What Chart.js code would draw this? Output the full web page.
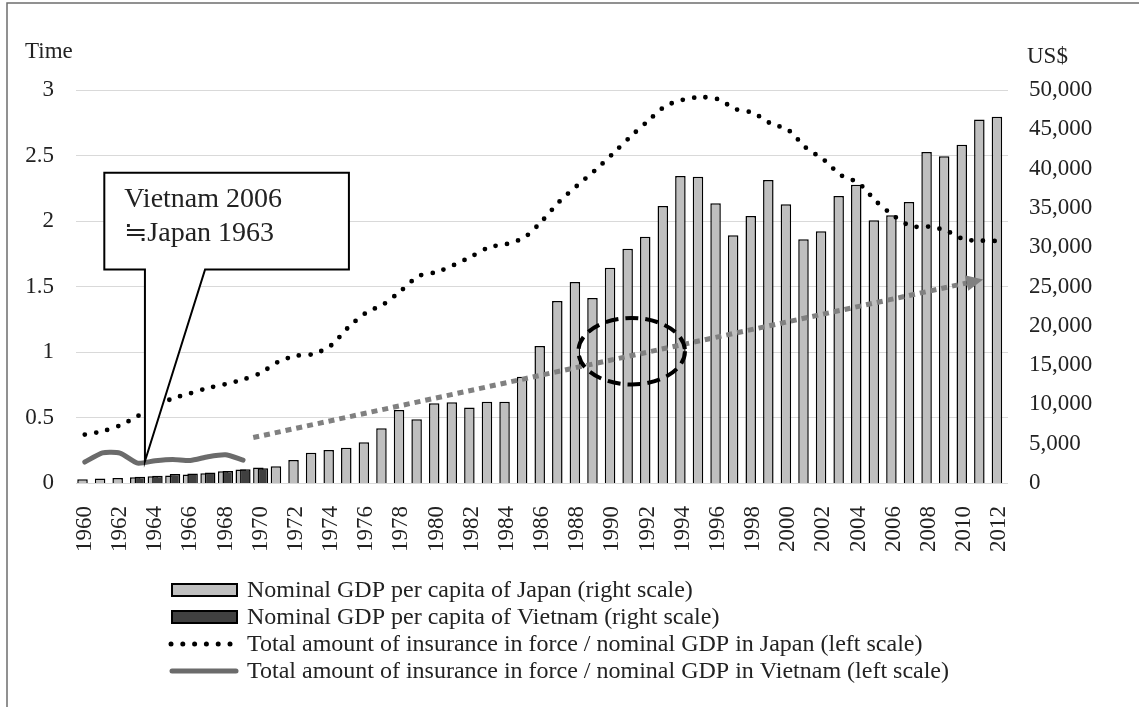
<!DOCTYPE html>
<html>
<head>
<meta charset="utf-8">
<script src="https://cdn.jsdelivr.net/npm/chart.js@4.4.0/dist/chart.umd.min.js"></script>
<style>
  html, body { margin: 0; padding: 0; background: #fff; }
</style>
</head>
<body>
<canvas id="gdp-chart" width="1139" height="707"></canvas>
<script>
  var years = ['1960','1961','1962','1963','1964','1965','1966','1967','1968','1969',
               '1970','1971','1972','1973','1974','1975','1976','1977','1978','1979',
               '1980','1981','1982','1983','1984','1985','1986','1987','1988','1989',
               '1990','1991','1992','1993','1994','1995','1996','1997','1998','1999',
               '2000','2001','2002','2003','2004','2005','2006','2007','2008','2009',
               '2010','2011','2012'];

  // US$, right scale
  var japanGdp = [480, 580, 650, 740, 850, 940, 1080, 1250, 1500, 1720,
                  1960, 2130, 2930, 3860, 4200, 4500, 5180, 6960, 9290, 8100,
                  10140, 10260, 9620, 10340, 10340, 13520, 17430, 23150, 25570, 23530,
                  27390, 29810, 31340, 35230, 39050, 38970, 35580, 31510, 33960, 38540,
                  35450, 31000, 32020, 36510, 37950, 33420, 34050, 35740, 42100, 41560,
                  43030, 46260, 46590];
  // Vietnam 2006-2013 laid over Japan 1963-1970
  var vietnamGdp = [null, null, null, 800, 930, 1160, 1220, 1330, 1540, 1750, 1880];

  // times, left scale
  var japanRatio = [0.37, 0.395, 0.44, 0.51, 0.59, 0.645, 0.685, 0.725, 0.755, 0.79,
                    0.84, 0.925, 0.97, 0.985, 1.05, 1.19, 1.30, 1.365, 1.47, 1.58,
                    1.61, 1.665, 1.73, 1.80, 1.825, 1.875, 2.00, 2.15, 2.27, 2.385,
                    2.51, 2.64, 2.76, 2.875, 2.925, 2.945, 2.93, 2.855, 2.825, 2.745,
                    2.695, 2.56, 2.47, 2.35, 2.29, 2.15, 2.04, 1.96, 1.957, 1.925,
                    1.86, 1.85, 1.847];
  // Vietnam 2003-2012 laid over Japan 1960-1969
  var vietnamRatio = [0.16, 0.23, 0.228, 0.152, 0.17, 0.18, 0.172, 0.2, 0.215, 0.175];

  var labelJpGdp = 'Nominal GDP per capita of Japan (right scale)';
  var labelVnGdp = 'Nominal GDP per capita of Vietnam (right scale)';
  var labelJpRatio = 'Total amount of insurance in force / nominal GDP in Japan (left scale)';
  var labelVnRatio = 'Total amount of insurance in force / nominal GDP in Vietnam (left scale)';

  // annotations, in category index / left-scale units
  var arrowFrom = [9.58, 0.347], arrowTo = [51.09, 1.554];
  var ring = { x: 31.1, y: 1.006, rx: 3.03, ry: 0.254 };
  var callout = { x0: 1.11, x1: 15.02, yTop: 2.368, yBot: 1.63, base0: 3.42, base1: 6.84, tipX: 3.42, tipY: 0.166,
                  lines: ['Vietnam 2006', '\u2252Japan 1963'] };

  var FONT = '"Liberation Serif", "Times New Roman", serif';
  var TEXT = '#222';

  var overlays = {
    id: 'overlays',
    beforeDraw: function(chart) {
      var ctx = chart.ctx;
      ctx.save();
      ctx.strokeStyle = '#6e6e6e';
      ctx.lineWidth = 1.5;
      ctx.beginPath();
      ctx.moveTo(7, 707); ctx.lineTo(7, 3); ctx.lineTo(1139, 3);
      ctx.stroke();
      ctx.restore();
    },
    afterDatasetsDraw: function(chart) {
      var ctx = chart.ctx, x = chart.scales.x, y = chart.scales.y;
      ctx.save();

      // gray dotted arrow
      var ax0 = x.getPixelForValue(arrowFrom[0]), ay0 = y.getPixelForValue(arrowFrom[1]);
      var ax1 = x.getPixelForValue(arrowTo[0]), ay1 = y.getPixelForValue(arrowTo[1]);
      var ang = Math.atan2(ay1 - ay0, ax1 - ax0), head = 17;
      ctx.strokeStyle = '#808080';
      ctx.fillStyle = '#808080';
      ctx.lineWidth = 5;
      ctx.setLineDash([6, 5]);
      ctx.beginPath();
      ctx.moveTo(ax0, ay0);
      ctx.lineTo(ax1 - head * Math.cos(ang), ay1 - head * Math.sin(ang));
      ctx.stroke();
      ctx.setLineDash([]);
      ctx.beginPath();
      ctx.moveTo(ax1, ay1);
      ctx.lineTo(ax1 - head * Math.cos(ang) + 8 * Math.sin(ang), ay1 - head * Math.sin(ang) - 8 * Math.cos(ang));
      ctx.lineTo(ax1 - head * Math.cos(ang) - 8 * Math.sin(ang), ay1 - head * Math.sin(ang) + 8 * Math.cos(ang));
      ctx.closePath();
      ctx.fill();

      // dashed ellipse
      var cx = x.getPixelForValue(ring.x), cy = y.getPixelForValue(ring.y);
      var rx = x.getPixelForValue(ring.x + ring.rx) - cx, ry = cy - y.getPixelForValue(ring.y + ring.ry);
      ctx.strokeStyle = '#000';
      ctx.lineWidth = 4;
      ctx.setLineDash([13, 7]);
      ctx.beginPath();
      ctx.ellipse(cx, cy, rx, ry, 0, 0, Math.PI * 2);
      ctx.stroke();
      ctx.setLineDash([]);

      // callout
      var bx0 = x.getPixelForValue(callout.x0), bx1 = x.getPixelForValue(callout.x1);
      var by0 = y.getPixelForValue(callout.yTop), by1 = y.getPixelForValue(callout.yBot);
      ctx.beginPath();
      ctx.moveTo(bx0, by0);
      ctx.lineTo(bx1, by0);
      ctx.lineTo(bx1, by1);
      ctx.lineTo(x.getPixelForValue(callout.base1), by1);
      ctx.lineTo(x.getPixelForValue(callout.tipX), y.getPixelForValue(callout.tipY));
      ctx.lineTo(x.getPixelForValue(callout.base0), by1);
      ctx.lineTo(bx0, by1);
      ctx.closePath();
      ctx.fillStyle = '#fff';
      ctx.fill();
      ctx.lineWidth = 2;
      ctx.lineJoin = 'miter';
      ctx.strokeStyle = '#000';
      ctx.stroke();
      ctx.fillStyle = TEXT;
      ctx.font = '28px ' + FONT;
      ctx.textBaseline = 'alphabetic';
      ctx.textAlign = 'left';
      callout.lines.forEach(function(t, i) {
        ctx.fillText(t, bx0 + 20, by0 + 34 + i * 34);
      });
      ctx.restore();
    },
    afterDraw: function(chart) {
      var ctx = chart.ctx;
      ctx.save();
      ctx.fillStyle = TEXT;
      ctx.font = '23px ' + FONT;
      ctx.textBaseline = 'alphabetic';
      ctx.fillText('Time', 25, 58);
      ctx.fillText('US$', 1027, 63);

      // legend, one row per series
      var items = chart.data.datasets.filter(function(d) { return d.label; });
      items.sort(function(a, b) { return a.legendRank - b.legendRank; });
      ctx.font = '24px ' + FONT;
      ctx.textBaseline = 'middle';
      items.forEach(function(d, i) {
        var cy = 590 + i * 27;
        if (d.type === 'bar') {
          ctx.fillStyle = d.backgroundColor;
          ctx.fillRect(172, cy - 6, 65, 12);
          ctx.strokeStyle = '#000';
          ctx.lineWidth = 2;
          ctx.strokeRect(172, cy - 6, 65, 12);
        } else if (d.borderDash) {
          ctx.fillStyle = d.borderColor;
          for (var k = 0; k < 6; k++) {
            ctx.beginPath();
            ctx.arc(171 + k * 11.8, cy, 2.5, 0, Math.PI * 2);
            ctx.fill();
          }
        } else {
          ctx.strokeStyle = d.borderColor;
          ctx.lineWidth = 5;
          ctx.lineCap = 'round';
          ctx.beginPath();
          ctx.moveTo(172, cy); ctx.lineTo(236, cy);
          ctx.stroke();
        }
        ctx.fillStyle = TEXT;
        ctx.fillText(d.label, 247, cy + 1);
      });
      ctx.restore();
    }
  };

  new Chart(document.getElementById('gdp-chart'), {
    type: 'bar',
    data: {
      labels: years,
      datasets: [
        { type: 'bar', label: '', data: [], stack: 'jp', yAxisID: 'y2', order: 1 },
        { type: 'line', label: labelJpRatio, legendRank: 2, data: japanRatio, yAxisID: 'y', order: 0,
          borderColor: '#000', borderWidth: 4.8, borderDash: [0, 11.5], borderCapStyle: 'round',
          pointRadius: 0, tension: 0.3, fill: false },
        { type: 'line', label: labelVnRatio, legendRank: 3, data: vietnamRatio, yAxisID: 'y', order: 0,
          borderColor: '#6b6b6b', borderWidth: 5, borderCapStyle: 'round', borderJoinStyle: 'round',
          pointRadius: 0, tension: 0.2, fill: false },
        { type: 'bar', label: labelVnGdp, legendRank: 1, data: vietnamGdp, stack: 'vn', yAxisID: 'y2', order: 2,
          backgroundColor: '#404040', borderColor: '#000', borderWidth: 1.5,
          categoryPercentage: 0.52, barPercentage: 2.3 },
        { type: 'bar', label: labelJpGdp, legendRank: 0, data: japanGdp, stack: 'jp', yAxisID: 'y2', order: 3,
          backgroundColor: '#bfbfbf', borderColor: '#000', borderWidth: 1.5,
          categoryPercentage: 0.52, barPercentage: 2.3 }
      ]
    },
    options: {
      responsive: false,
      animation: false,
      devicePixelRatio: 1,
      layout: { padding: { left: 0, right: 0, top: 90, bottom: 154 } },
      plugins: { legend: { display: false }, tooltip: { enabled: false } },
      scales: {
        x: {
          grid: { display: false },
          border: { display: false },
          ticks: {
            autoSkip: false, minRotation: 90, maxRotation: 90, padding: 15,
            color: TEXT, font: { family: FONT, size: 23 },
            callback: function(v, i) { return i % 2 === 0 ? this.getLabelForValue(v) : ''; }
          },
          afterFit: function(s) { s.height = 70; }
        },
        y: {
          position: 'left', min: 0, max: 3,
          grid: { color: '#d9d9d9', lineWidth: 1, drawTicks: false },
          border: { display: false },
          ticks: {
            stepSize: 0.5, padding: 22, color: TEXT, font: { family: FONT, size: 23 },
            callback: function(v) { return String(Math.round(v * 10) / 10); }
          },
          afterFit: function(s) { s.width = 76; }
        },
        y2: {
          position: 'right', min: 0, max: 50000, stacked: false,
          grid: { display: false, drawTicks: false },
          border: { display: false },
          ticks: {
            stepSize: 5000, padding: 21, color: TEXT, font: { family: FONT, size: 23 },
            callback: function(v) { return v.toLocaleString('en-US'); }
          },
          afterFit: function(s) { s.width = 131; }
        }
      }
    },
    plugins: [overlays]
  });
</script>
</body>
</html>
